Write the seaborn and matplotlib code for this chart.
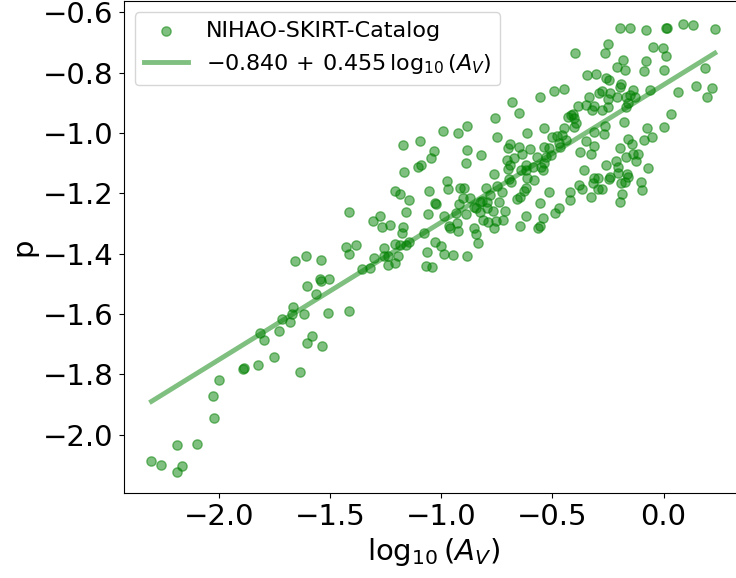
import numpy as np
import matplotlib
matplotlib.use('Agg')
import matplotlib.pyplot as plt
from matplotlib.ticker import MultipleLocator
import seaborn as sns

# values
log_av = [
    -2.306, -2.262, -2.192, -2.169, -2.190, -2.100, -2.024, -2.028, -2.004, -1.893,
    -1.890, -1.826, -1.752, -1.638, -1.818, -1.797, -1.733, -1.718, -1.682, -1.675,
    -1.668, -1.620, -1.607, -1.583, -1.539, -1.605, -1.567, -1.548, -1.542, -1.506,
    -1.513, -1.418, -1.659, -1.611, -1.542, -1.431, -1.418, -1.385, -1.356, -1.324,
    -1.304, -1.261, -1.259, -1.241, -1.241, -1.207, -1.196, -1.207, -1.185, -1.158,
    -1.148, -1.067, -1.071, -1.043, -1.029, -1.000, -0.989, -0.948, -0.887, -0.834,
    -1.173, -1.169, -1.211, -1.188, -1.146, -1.161, -1.418, -1.308, -1.279, -1.268,
    -1.230, -1.171, -1.179, -1.080, -0.855, -0.843, -0.995, -0.926, -0.887, -0.757,
    -0.681, -0.653, -0.554, -0.491, -0.448, -0.748, -0.536, -0.613, -1.097, -1.032,
    -1.047, -0.887, -0.824, -0.888, -1.092, -1.106, -0.701, -0.692, -0.653, -0.603,
    -0.707, -0.675, -0.638, -0.568, -0.536, -0.516, -0.505, -0.527, -0.500, -0.480,
    -0.455, -0.471, -0.448, -0.428, -0.441, -0.618, -0.588, -0.550, -0.536, -0.693,
    -0.764, -0.701, -0.698, -0.685, -0.640, -0.618, -0.543, -0.615, -0.581, -0.975,
    -0.971, -1.058, -0.918, -0.900, -0.801, -0.748, -0.728, -0.783, -0.816, -0.621,
    -0.630, -0.648, -0.660, -0.516, -0.903, -0.870, -0.921, -0.828, -0.795, -0.855,
    -0.846, -0.828, -0.795, -0.768, -0.741, -0.714, -1.031, -1.024, -1.061, -0.990,
    -0.936, -0.888, -0.966, -0.960, -0.930, -0.924, -0.813, -0.791, -0.764, -0.756,
    -0.723, -0.618, -0.558, -0.543, -0.566, -0.558, -0.645, -0.489, -0.471, -0.198,
    -0.150, -0.081, 0.012, 0.015, 0.086, 0.135, 0.231, -0.251, -0.262, -0.397,
    -0.048, -0.003, 0.009, -0.183, -0.210, -0.172, -0.081, -0.090, 0.001, 0.185,
    -0.343, -0.303, -0.261, -0.246, -0.190, -0.198, -0.138, -0.063, -0.129, 0.066,
    0.145, 0.219, 0.197, -0.291, -0.276, -0.240, -0.248, -0.208, -0.168, -0.153,
    -0.161, -0.168, -0.336, -0.348, -0.314, -0.320, -0.276, -0.251, -0.386, -0.415,
    -0.405, -0.393, -0.401, -0.408, 0.032, -0.176, -0.264, -0.266, -0.075, 0.001,
    -0.314, -0.161, -0.144, -0.090, -0.051, -0.348, -0.311, -0.198, -0.468, -0.375,
    -0.325, -0.213, -0.168, -0.138, -0.114, -0.126, -0.072, -0.258, -0.360, -0.203,
    -0.206, -0.163, -0.161, -0.172, -0.193, -0.240, -0.246, -0.314, -0.293, -0.318,
    -0.100, -0.096, -0.381, -0.366, -0.419, -0.419, -0.293, -0.276, -0.325, -0.186,
    -0.197,
]
p = [
    -2.088, -2.101, -2.035, -2.105, -2.123, -2.030, -1.944, -1.870, -1.819, -1.782,
    -1.780, -1.770, -1.741, -1.791, -1.662, -1.686, -1.656, -1.615, -1.625, -1.600,
    -1.576, -1.600, -1.696, -1.674, -1.706, -1.506, -1.532, -1.482, -1.489, -1.483,
    -1.597, -1.591, -1.423, -1.408, -1.421, -1.376, -1.400, -1.372, -1.451, -1.446,
    -1.415, -1.382, -1.407, -1.407, -1.437, -1.431, -1.407, -1.367, -1.371, -1.371,
    -1.360, -1.394, -1.442, -1.444, -1.360, -1.374, -1.401, -1.404, -1.408, -1.363,
    -1.039, -1.130, -1.192, -1.202, -1.222, -1.262, -1.261, -1.291, -1.275, -1.310,
    -1.304, -1.312, -1.330, -1.330, -1.315, -1.335, -0.993, -0.999, -0.978, -0.951,
    -0.897, -0.933, -0.880, -0.862, -0.853, -1.014, -0.982, -1.001, -1.026, -1.058,
    -1.083, -1.055, -1.072, -1.100, -1.106, -1.111, -1.050, -1.036, -1.047, -1.054,
    -1.089, -1.084, -1.069, -1.079, -1.045, -1.050, -1.073, -1.078, -1.014, -1.010,
    -1.007, -1.032, -0.984, -0.948, -1.023, -1.106, -1.111, -1.111, -1.100, -1.106,
    -1.137, -1.119, -1.152, -1.161, -1.122, -1.122, -1.122, -1.150, -1.155, -1.158,
    -1.186, -1.192, -1.183, -1.181, -1.181, -1.175, -1.196, -1.205, -1.224, -1.181,
    -1.192, -1.213, -1.218, -1.196, -1.216, -1.214, -1.235, -1.227, -1.227, -1.244,
    -1.249, -1.260, -1.247, -1.258, -1.227, -1.258, -1.232, -1.236, -1.268, -1.274,
    -1.264, -1.268, -1.307, -1.313, -1.297, -1.324, -1.288, -1.293, -1.315, -1.291,
    -1.288, -1.275, -1.232, -1.280, -1.313, -1.308, -1.307, -1.264, -1.249, -0.650,
    -0.652, -0.658, -0.652, -0.650, -0.639, -0.641, -0.654, -0.705, -0.733, -0.736,
    -0.714, -0.717, -0.744, -0.756, -0.782, -0.791, -0.760, -0.794, -0.791, -0.783,
    -0.808, -0.804, -0.817, -0.824, -0.837, -0.848, -0.857, -0.857, -0.881, -0.864,
    -0.845, -0.852, -0.881, -0.866, -0.860, -0.866, -0.888, -0.881, -0.881, -0.874,
    -0.901, -0.913, -0.881, -0.907, -0.910, -0.924, -0.924, -0.915, -0.910, -0.940,
    -0.951, -0.968, -0.979, -0.935, -0.935, -0.962, -0.977, -1.004, -0.982, -0.981,
    -0.995, -1.020, -1.036, -1.023, -1.014, -1.026, -1.042, -1.049, -1.045, -1.064,
    -1.070, -1.091, -1.078, -1.070, -1.070, -1.091, -1.117, -1.106, -1.123, -1.113,
    -1.133, -1.137, -1.144, -1.161, -1.164, -1.146, -1.153, -1.150, -1.148, -1.164,
    -1.163, -1.188, -1.172, -1.185, -1.196, -1.222, -1.186, -1.185, -1.212, -1.203,
    -1.227,
]
intercept = -0.840
slope = 0.455

log_av = np.array(log_av)
p = np.array(p)
x_fit = np.linspace(log_av.min(), log_av.max(), 100)
y_fit = intercept + slope * x_fit

fig = plt.figure(figsize=(7.36, 5.78), dpi=100)
# the reference is cropped on the right, so the axes run past the figure edge
ax = fig.add_axes([0.1678, 0.147, 0.8417, 0.851])

sns.scatterplot(x=log_av, y=p, color='green', alpha=0.5, s=45,
                edgecolor='green', linewidth=1, label='NIHAO-SKIRT-Catalog', ax=ax)
sns.lineplot(x=x_fit, y=y_fit, color='green', alpha=0.5, linewidth=3.5,
             label=rf'${intercept:.3f}\,+\,{slope:.3f}\,\log_{{10}}(A_V)$', ax=ax)

ax.set_xlim(-2.432, 0.358)
ax.set_ylim(-2.193, -0.5626)
ax.yaxis.set_major_locator(MultipleLocator(0.2))
ax.set_xlabel(r'$\log_{10}(A_V)$', fontsize=21)
ax.set_ylabel('p', fontsize=21)
ax.tick_params(labelsize=21)
ax.legend(loc='upper left', fontsize=16)

plt.savefig('out.png', dpi=100)
